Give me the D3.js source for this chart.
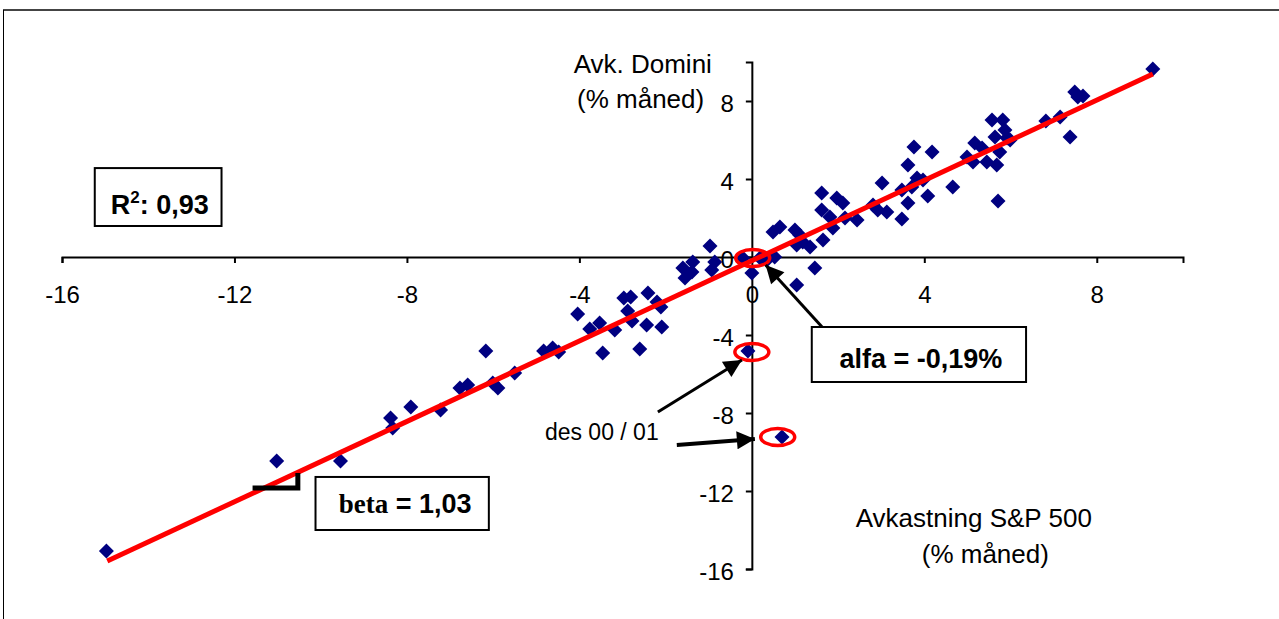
<!DOCTYPE html>
<html lang="no">
	<head>
		<meta charset="utf-8">
		<title>Avkastning Domini mot S&amp;P 500</title>
		<script type="text/javascript" src="https://cdn.jsdelivr.net/npm/d3@7"></script>
		<style type="text/css">
			body{
				margin: 0px;
				overflow: hidden;
				background: white;
			}
			text{
				font-family: "Liberation Sans", Arial, sans-serif;
				fill: black;
			}
			.tick text{
				font-size: 24px;
			}
			.tick line, .domain{
				stroke: black;
				stroke-width: 2;
			}
			.axis-label{
				font-size: 26px;
			}
			.box-text{
				font-size: 27px;
				font-weight: bold;
			}
			.serif{
				font-family: "Liberation Serif", "Times New Roman", serif;
			}
		</style>
	</head>
	<body>
		<script type="text/javascript">

			// monthly returns (%), S&P 500 (x) vs Domini (y)
			const spReturn = [
				-14.97, -11.02, -9.54, -8.38, -8.33, -7.91, -7.22, -6.77, -6.59, -6.17,
				-6.01, -5.89, -5.50, -4.83, -4.62, -4.48, -4.04, -3.76, -3.53, -3.46,
				-3.18, -2.97, -2.81, -2.88, -2.78, -2.41, -2.20, -2.11, -2.44, -2.09,
				-2.60, -1.55, -1.39, -1.60, -1.37, -0.97, -0.93, -0.86, -0.21, 0.00,
				0.19, -0.09, 0.70, 0.49, 0.65, 0.35, 0.23, 0.53, 1.00, 1.11,
				1.04, 1.18, 1.35, 1.46, 1.04, 1.65, 1.62, 1.97, 2.11, 1.62,
				1.81, 1.88, 2.16, 2.44, 2.81, 2.92, 3.13, 3.02, 3.48, 3.48,
				3.71, 3.62, 3.83, 3.97, 4.08, 4.66, 3.62, 3.76, 4.18, 5.13,
				5.45, 5.68, 5.71, 5.17, 5.34, 5.57, 5.82, 5.87, 5.64, 5.92,
				5.75, 5.99, 4.99, 6.82, 7.15, 7.38, 7.49, 7.68, 7.56, 9.30
			];
			const dominiReturn = [
				-15.08, -10.46, -10.46, -8.26, -8.77, -7.69, -7.85, -6.72, -6.56, -4.82,
				-6.46, -6.72, -5.95, -4.82, -4.67, -4.87, -2.92, -3.69, -3.38, -4.92,
				-3.74, -2.10, -2.05, -2.77, -3.28, -1.85, -2.31, -2.56, -3.49, -3.59,
				-4.72, -1.08, -0.77, -0.56, -0.26, 0.56, -0.67, -0.26, -0.05, -0.82,
				-0.05, -4.82, -9.23, 1.28, 1.54, -0.15, -0.05, 0.00, 1.38, 1.13,
				0.62, 0.77, 0.51, -0.56, -1.44, 0.87, 3.28, 3.03, 2.77, 2.41,
				2.05, 1.49, 2.00, 1.90, 2.67, 2.41, 2.31, 3.79, 1.95, 3.44,
				3.59, 2.77, 4.05, 3.95, 3.13, 3.59, 4.72, 5.64, 5.38, 4.87,
				4.87, 4.72, 2.87, 5.85, 5.59, 7.03, 7.03, 6.51, 6.15, 6.10,
				5.38, 6.00, 5.13, 6.97, 7.18, 6.15, 8.46, 8.26, 8.21, 9.64
			];

			// regression line endpoints (beta 1,03 / alfa -0,19)
			const trendX = [-14.95, 9.30];
			const trendY = [-15.59, 9.39];

			const tickValues = [-16, -12, -8, -4, 0, 4, 8];

			// annotations, in data units
			const circledX = [0.02, 0.00, 0.60];
			const circledY = [-0.05, -4.87, -9.23];
			const arrowFrom = [[1.65, -3.64], [-2.18, -7.95], [-1.74, -9.64]];
			const arrowTo = [[0.32, -0.41], [-0.23, -5.28], [0.07, -9.33]];

			const width = 1279;
			const height = 619;

			const xScale = d3.scaleLinear()
				.domain([-16, 10])
				.range([62, 1183]);

			const yScale = d3.scaleLinear()
				.domain([-16, 10])
				.range([569, 62]);

			const svg = d3.select("body")
				.append("svg")
				.attr("width", width)
				.attr("height", height);

			// outer frame
			svg.append("line")
				.attr("x1", 3).attr("x2", width).attr("y1", 10).attr("y2", 10)
				.attr("stroke", "#444").attr("stroke-width", 2);
			svg.append("line")
				.attr("x1", 3.5).attr("x2", 3.5).attr("y1", 10).attr("y2", height)
				.attr("stroke", "black").attr("stroke-width", 1);

			// axes crossing at origin, plain hyphen minus like the original
			const plain = d => String(d);

			const xAxis = d3.axisBottom(xScale)
				.tickValues(tickValues)
				.tickFormat(plain)
				.tickSizeOuter(0)
				.tickSize(6)
				.tickPadding(23);

			const yAxis = d3.axisLeft(yScale)
				.tickValues(tickValues)
				.tickFormat(plain)
				.tickSizeOuter(0)
				.tickSize(6)
				.tickPadding(12);

			const xAxisG = svg.append("g")
				.attr("transform", `translate(0,${yScale(0)})`)
				.call(xAxis);
			xAxisG.selectAll("text").attr("fill", "black");

			const yAxisG = svg.append("g")
				.attr("transform", `translate(${xScale(0)},0)`)
				.call(yAxis);
			yAxisG.selectAll("text").attr("fill", "black").attr("dy", "0.45em");

			// points
			const diamond = "M0,-7.5L7.5,0L0,7.5L-7.5,0Z";
			svg.append("g")
				.selectAll("path")
				.data(spReturn.map((x, i) => [x, dominiReturn[i]]))
				.enter()
				.append("path")
				.attr("d", diamond)
				.attr("transform", d => `translate(${xScale(d[0])},${yScale(d[1])})`)
				.attr("fill", "#000080");

			// regression line
			const lineGen = d3.line()
				.x(d => xScale(d[0]))
				.y(d => yScale(d[1]));
			svg.append("path")
				.attr("d", lineGen(trendX.map((x, i) => [x, trendY[i]])))
				.attr("stroke", "#ff0000")
				.attr("stroke-width", 5)
				.attr("fill", "none");

			// beta angle marker
			svg.append("path")
				.attr("d", lineGen([[-11.58, -11.85], [-10.53, -11.85], [-10.53, -11.08]]))
				.attr("stroke", "black")
				.attr("stroke-width", 5)
				.attr("fill", "none");

			// red circles
			svg.append("g")
				.selectAll("ellipse")
				.data(circledX.map((x, i) => [x, circledY[i]]))
				.enter()
				.append("ellipse")
				.attr("cx", d => xScale(d[0]))
				.attr("cy", d => yScale(d[1]))
				.attr("rx", 17)
				.attr("ry", 8.5)
				.attr("fill", "none")
				.attr("stroke", "#ff0000")
				.attr("stroke-width", 3.5);

			// arrows
			svg.append("defs").append("marker")
				.attr("id", "head")
				.attr("viewBox", "0 0 10 10")
				.attr("refX", 10).attr("refY", 5)
				.attr("markerUnits", "userSpaceOnUse")
				.attr("markerWidth", 22).attr("markerHeight", 18)
				.attr("orient", "auto")
				.append("path")
				.attr("d", "M0,0L10,5L0,10Z")
				.attr("fill", "black");

			svg.append("g")
				.selectAll("line")
				.data(arrowFrom)
				.enter()
				.append("line")
				.attr("x1", d => xScale(d[0]))
				.attr("y1", d => yScale(d[1]))
				.attr("x2", (d, i) => xScale(arrowTo[i][0]))
				.attr("y2", (d, i) => yScale(arrowTo[i][1]))
				.attr("stroke", "black")
				.attr("stroke-width", (d, i) => i === 2 ? 4 : 3)
				.attr("marker-end", "url(#head)");

			// axis titles
			svg.append("text").attr("class", "axis-label")
				.attr("x", xScale(-2.53)).attr("y", yScale(9.44))
				.attr("text-anchor", "middle").text("Avk. Domini");
			svg.append("text").attr("class", "axis-label")
				.attr("x", xScale(-2.58)).attr("y", yScale(7.64))
				.attr("text-anchor", "middle").text("(% måned)");
			svg.append("text").attr("class", "axis-label")
				.attr("x", xScale(2.41)).attr("y", yScale(-13.85))
				.text("Avkastning S&P 500");
			svg.append("text").attr("class", "axis-label")
				.attr("x", xScale(3.94)).attr("y", yScale(-15.69))
				.text("(% måned)");

			svg.append("text")
				.attr("x", xScale(-4.80)).attr("y", yScale(-9.38))
				.style("font-size", "23px")
				.text("des 00 / 01");

			// boxes
			function box(x0, x1, y0, y1){
				svg.append("rect")
					.attr("x", xScale(x0)).attr("y", yScale(y0))
					.attr("width", xScale(x1) - xScale(x0))
					.attr("height", yScale(y1) - yScale(y0))
					.attr("fill", "white")
					.attr("stroke", "black")
					.attr("stroke-width", 2);
			}

			box(-15.24, -12.30, 4.56, 1.59);
			const r2 = svg.append("text").attr("class", "box-text")
				.attr("x", xScale(-13.73)).attr("y", yScale(2.2))
				.attr("text-anchor", "middle");
			r2.append("tspan").text("R");
			r2.append("tspan").attr("dy", -11).style("font-size", "17px").text("2");
			r2.append("tspan").attr("dy", 11).text(": 0,93");

			box(-10.12, -6.10, -11.28, -14.0);
			const b = svg.append("text").attr("class", "box-text")
				.attr("x", xScale(-8.04)).attr("y", yScale(-13.15))
				.attr("text-anchor", "middle");
			b.append("tspan").attr("class", "serif").text("beta");
			b.append("tspan").text(" = 1,03");

			box(1.39, 6.36, -3.59, -6.41);
			svg.append("text").attr("class", "box-text")
				.attr("x", xScale(3.92)).attr("y", yScale(-5.71))
				.attr("text-anchor", "middle")
				.text("alfa = -0,19%");

		</script>
	</body>
</html>
